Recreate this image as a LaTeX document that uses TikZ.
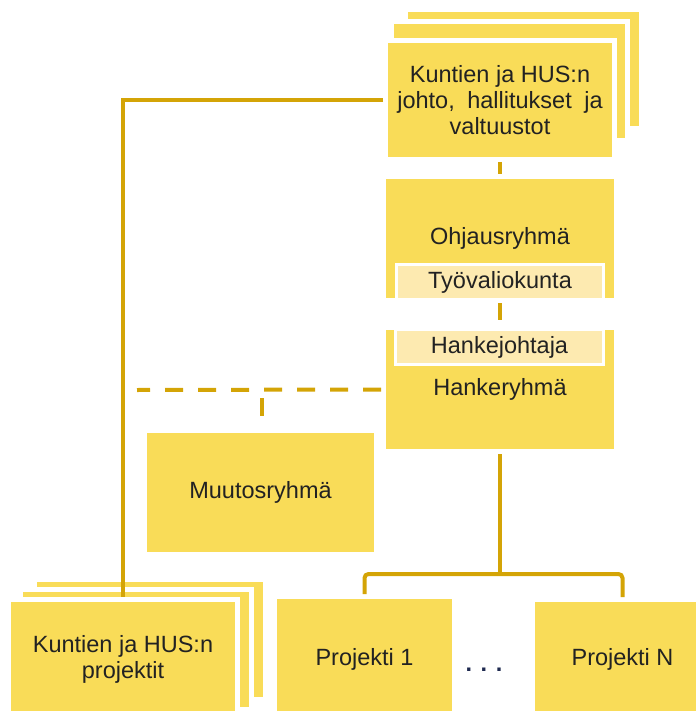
\documentclass[tikz,border=0pt]{standalone}
\usepackage{fontspec}
\setmainfont{Liberation Sans}
\definecolor{boxyellow}{HTML}{F9DC58}
\definecolor{lightyellow}{HTML}{FDEAB0}
\definecolor{linegold}{HTML}{D4A406}
\definecolor{textdark}{HTML}{222222}
\definecolor{dotnavy}{HTML}{1F2A50}
\tikzset{
  ybox/.style={fill=boxyellow, draw=white, line width=5pt, inner sep=0pt, align=center,
    text=textdark, font=\fontsize{23.5}{26}\selectfont},
  ibox/.style={fill=lightyellow, draw=white, line width=3pt, inner sep=0pt, align=center,
    text=textdark, font=\fontsize{23.5}{26}\selectfont},
  layer/.style={fill=boxyellow, draw=white, line width=5pt},
  conn/.style={draw=linegold, line width=4pt},
  dconn/.style={draw=linegold, line width=4pt, dash pattern=on 18pt off 15pt},
}
\begin{document}
\begin{tikzpicture}[x=1pt,y=-1pt]
\useasboundingbox (0,0) rectangle (695,711);
% top stack layers
\path[layer] (405.5,9.5) rectangle (641.5,128.5);
\path[layer] (391.5,21.5) rectangle (627.5,140.5);
\node[ybox, minimum width=229pt, minimum height=119pt] (johto) at (500,100)
  {Kuntien ja HUS:n\\johto,\hspace{6pt} hallitukset\hspace{6pt} ja\\valtuustot};
% Ohjausryhma
\node[ybox, minimum width=233pt, minimum height=124pt] (ohj) at (500,238.5) {Ohjausryhmä};
\node[ibox, minimum width=207pt, minimum height=35pt] (tyo) at (500,282) {Työvaliokunta};
% Hankeryhma
\node[ybox, minimum width=233pt, minimum height=124pt] (hank) at (500,389.5) {Hankeryhmä};
\node[ibox, minimum width=208pt, minimum height=35pt] (hj) at (499.5,347) {Hankejohtaja};
% Muutosryhma
\node[ybox, minimum width=232pt, minimum height=124pt] (muutos) at (260.5,492.5) {Muutosryhmä};
% bottom-left stack
\path[layer] (34.5,579.5) rectangle (265.5,699.5);
\path[layer] (20.5,589.5) rectangle (251.5,709.5);
\node[ybox, minimum width=229pt, minimum height=119.5pt] (projL) at (123,659.25)
  {Kuntien ja HUS:n\\projektit};
% projects
\node[ybox, minimum width=180pt, minimum height=125.5pt] (p1) at (364.5,659.25) {Projekti 1};
\node[ybox, minimum width=180pt, minimum height=119.5pt] (pn) at (622.5,659.25) {Projekti N};
\node[text=dotnavy, font=\fontsize{23.5}{26}\selectfont\bfseries, inner sep=0pt] (dots) at (484,670) {. . .};
% connectors
\draw[conn] (johto.south) -- (ohj.north);
\draw[conn, dash pattern=on 17pt off 20pt] (ohj.south) -- (hank.north);
\draw[conn] (johto.west) -| (projL.north);
\coordinate (dl) at (137,390);
\draw[dconn] (hank.west) -- (dl);
\coordinate (dj) at (262,390);
\draw[dconn, dash phase=25pt] (dj) -- (dj |- muutos.north);
\coordinate (bus) at (500,574);
\draw[conn] (hank.south) -- (bus);
\draw[conn, rounded corners=4pt] (p1.north) -- (p1.north |- bus) -- (pn.north |- bus) -- (pn.north);
\end{tikzpicture}
\end{document}
